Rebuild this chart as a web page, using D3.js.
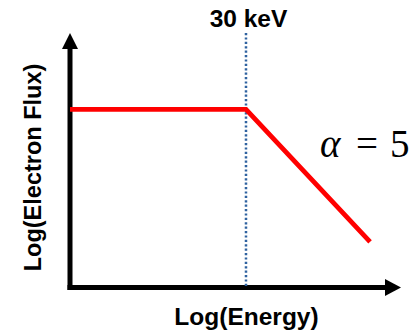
<!DOCTYPE html>
<html>
<head>
<meta charset="utf-8">
<script src="https://cdn.jsdelivr.net/npm/d3@7"></script>
<style>
  html, body { margin: 0; padding: 0; background: #fff; }
  svg { display: block; }
</style>
</head>
<body>
<svg id="chart" width="418" height="332"></svg>
<script>
// Broken power-law electron spectrum: flat below the break, falling as E^-alpha above it.
const breakEnergy = 30;          // keV
const alpha = 5;                 // spectral index above the break
const energies = [1, 30, 330];   // keV: start, break, end of the drawn curve
const flatFlux = 1e7;            // flux level below the break (arbitrary units)
const xDomain = [1, 600];        // keV
const yDomain = [1, 1e10];       // flux
const breakLabel = "30 keV";
const xLabel = "Log(Energy)";
const yLabel = "Log(Electron Flux)";

const flux = energies.map(e => e <= breakEnergy ? flatFlux : flatFlux * Math.pow(e / breakEnergy, -alpha));
const spectrum = energies.map((e, i) => ({ e, f: flux[i] }));

const svg = d3.select("#chart");
const x = d3.scaleLog().domain(xDomain).range([70, 401]);
const y = d3.scaleLog().domain(yDomain).range([287.5, 33]);

// axes without ticks, drawn as thick black lines ending in arrowheads
const gx = svg.append("g").attr("transform", `translate(0,${y.range()[0]})`)
  .call(d3.axisBottom(x).tickValues([]).tickSizeOuter(0));
gx.select(".domain").attr("d", `M${x.range()[0] - 2.5},0H${x.range()[1] - 15}`)
  .attr("stroke", "#000").attr("stroke-width", 5);
const gy = svg.append("g").attr("transform", `translate(${x.range()[0]},0)`)
  .call(d3.axisLeft(y).tickValues([]).tickSizeOuter(0));
gy.select(".domain").attr("d", `M0,${y.range()[0] + 2.5}V${y.range()[1] + 15}`)
  .attr("stroke", "#000").attr("stroke-width", 5);

const x1 = x.range()[1], y0 = y.range()[0];
svg.append("path")
  .attr("d", `M${x1},${y0}L${x1 - 16},${y0 - 8.5}L${x1 - 16},${y0 + 8.5}Z`)
  .attr("fill", "#000");
const x0 = x.range()[0], y1 = y.range()[1];
svg.append("path")
  .attr("d", `M${x0},${y1}L${x0 - 8},${y1 + 16}L${x0 + 8},${y1 + 16}Z`)
  .attr("fill", "#000");

// dotted marker at the break energy
svg.append("line")
  .attr("x1", x(breakEnergy)).attr("x2", x(breakEnergy))
  .attr("y1", y1).attr("y2", y0)
  .attr("stroke", "#2f62a0").attr("stroke-width", 2.5)
  .attr("stroke-dasharray", "2.2,2.2");

// spectrum
svg.append("path")
  .datum(spectrum)
  .attr("d", d3.line().x(d => x(d.e)).y(d => y(d.f)))
  .attr("fill", "none")
  .attr("stroke", "#ff0000")
  .attr("stroke-width", 4.8)
  .attr("stroke-linejoin", "miter");

// labels
const sans = "'Liberation Sans', Arial, sans-serif";
svg.append("text")
  .attr("x", x(breakEnergy) + 2.5).attr("y", 27)
  .attr("text-anchor", "middle")
  .attr("font-family", sans).attr("font-weight", "bold").attr("font-size", 24.5)
  .text(breakLabel);

svg.append("text")
  .attr("x", 246.5).attr("y", 324.5)
  .attr("text-anchor", "middle")
  .attr("font-family", sans).attr("font-weight", "bold").attr("font-size", 24.5)
  .text(xLabel);

svg.append("text")
  .attr("transform", "translate(40.5,167.5) rotate(-90)")
  .attr("text-anchor", "middle")
  .attr("font-family", sans).attr("font-weight", "bold").attr("font-size", 23.5)
  .text(yLabel);

const serif = "'Liberation Serif', 'Times New Roman', serif";
const eq = svg.append("text")
  .attr("y", 157)
  .attr("font-family", serif).attr("font-size", 39);
eq.append("tspan").attr("x", 320).attr("font-style", "italic").text("\u03b1");
eq.append("tspan").attr("x", 356).text("=");
eq.append("tspan").attr("x", 390).text(String(alpha));
</script>
</body>
</html>
